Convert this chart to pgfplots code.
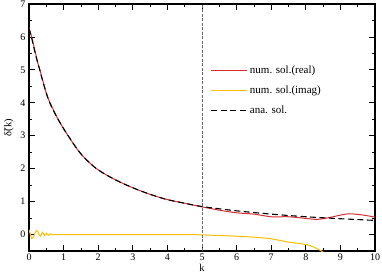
\documentclass[border=0pt]{standalone}
\usepackage{fontspec}
\setmainfont{Liberation Serif}
\usepackage{pgfplots}
\pgfplotsset{compat=1.18}
\definecolor{rd}{RGB}{215,45,50}
\definecolor{yl}{RGB}{255,190,0}
\begin{document}
\begin{tikzpicture}[x=1pt,y=1pt]
\begin{axis}[
  at={(0,0)}, anchor=south west,
  scale only axis, width=346pt, height=247pt,
  xmin=0, xmax=10, ymin=-0.5, ymax=7,
  xtick={0,1,...,10}, ytick={0,1,...,7},
  minor x tick num=1, minor y tick num=1,
  tick align=inside, major tick length=6pt, minor tick length=3pt,
  tick style={black, line width=0.8pt},
  axis line style={line width=1.1pt},
  every tick label/.append style={font=\fontsize{10}{11}\selectfont},
  /pgf/number format/assume math mode=true,
  xlabel={k}, ylabel={\~{δ}(k)},
  label style={font=\fontsize{10.5}{11}\selectfont},
  xlabel style={yshift=3pt},
  xticklabel style={yshift=0.5pt},
  legend style={draw=none, fill=none, at={(0.525,0.76)}, anchor=north west,
    font=\fontsize{11}{12}\selectfont, row sep=7pt, inner sep=0pt},
  legend cell align=left,
  legend image code/.code={\draw[#1] (0pt,0pt) -- (36pt,0pt);},
  clip=true,
]
\addplot[rd, line width=1pt, smooth] coordinates {
(0,6.28) (0.07,6.02) (0.18,5.55) (0.25,5.22) (0.31,5.02) (0.38,4.74) (0.44,4.52) (0.52,4.22) (0.6,4.02) (0.84,3.5) (1.13,3.0) (1.5,2.45) (1.95,2.0) (2.5,1.66) (3,1.42) (3.5,1.22) (4,1.06) (4.5,0.95) (5,0.84) (5.5,0.74) (6,0.66) (6.5,0.62) (7,0.54) (7.5,0.54) (8,0.49) (8.33,0.46) (8.7,0.52) (9,0.59) (9.25,0.63) (9.6,0.6) (10,0.53)};
\addlegendentry{num. sol.(real)}
\addplot[yl, line width=1pt, smooth] coordinates {
(0,0.15) (0.04,0.0) (0.08,-0.12) (0.13,-0.07) (0.18,0.06) (0.23,0.12) (0.28,0.02) (0.33,-0.05) (0.39,0.07) (0.45,-0.03) (0.5,0.04) (0.56,-0.02) (0.62,0.02) (0.68,-0.01) (0.75,0.0) (1,0) (2,0) (3,0) (4,0) (4.5,0) (5,-0.01) (5.5,-0.03) (6,-0.05) (6.5,-0.08) (7,-0.13) (7.5,-0.23) (8,-0.3) (8.2,-0.37) (8.4,-0.47) (8.5,-0.53)};
\addlegendentry{num. sol.(imag)}
\addplot[black, line width=1.1pt, dash pattern=on 6pt off 3.5pt, smooth] coordinates {
(0,6.25) (0.07,6.0) (0.18,5.5) (0.31,5.0) (0.44,4.5) (0.6,4.0) (0.84,3.5) (1.13,3.0) (1.5,2.45) (1.95,2.0) (2.5,1.66) (3,1.42) (3.5,1.22) (4,1.06) (4.5,0.95) (5,0.85) (6,0.72) (7,0.62) (8,0.54) (9,0.48) (10,0.43)};
\addlegendentry{ana. sol.}
\addplot[gray!80!black, line width=0.8pt, dash pattern=on 3pt off 1.5pt, forget plot] coordinates {(5,-0.5) (5,7)};
\end{axis}
\pgfresetboundingbox
\path[use as bounding box] (-29,-22) rectangle (353,251);
\end{tikzpicture}
\end{document}
